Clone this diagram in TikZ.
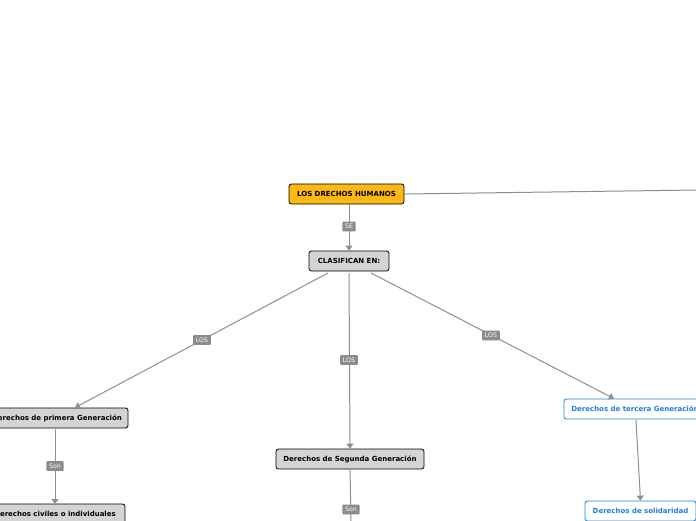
\documentclass[tikz,border=0pt]{standalone}
\usepackage{fontspec}
\setmainfont{DejaVu Sans}
\usetikzlibrary{arrows.meta}
\definecolor{orangefill}{HTML}{FDB813}
\definecolor{boxgray}{HTML}{D4D4D4}
\definecolor{linegray}{HTML}{8E8E8E}
\definecolor{labgray}{HTML}{8C8C8C}
\definecolor{blueline}{HTML}{1F7FE0}
\tikzset{
  x=1pt,y=-1pt,
  concept/.style={draw=black,line width=0.8pt,rounded corners=2.5pt,minimum height=20pt,inner xsep=6pt,font=\fontsize{7}{8}\selectfont\bfseries},
  maintopic/.style={concept,fill=orangefill},
  graytopic/.style={concept,fill=boxgray},
  bluetopic/.style={concept,draw=blueline,fill=white,text=blueline},
  linklab/.style={fill=labgray,text=white,rounded corners=1pt,inner xsep=2.8pt,inner ysep=2.6pt,font=\fontsize{6.2}{7}\selectfont},
  conn/.style={draw=linegray,line width=1pt},
  arr/.style={conn,-{Triangle[length=5pt,width=7pt]}}
}
\begin{document}
\begin{tikzpicture}
\useasboundingbox (0,0) rectangle (696,520);
\node[maintopic,minimum width=115pt] (top) at (346.5,194) {LOS DRECHOS HUMANOS};
\node[graytopic,minimum width=80pt] (clas) at (349,261) {CLASIFICAN EN:};
\node[graytopic,minimum width=142pt] (g1) at (57,418) {Derechos de primera Generación};
\node[graytopic,minimum width=140pt] (civ) at (55,514) {Derechos civiles o individuales};
\node[graytopic,minimum width=148pt] (g2) at (350,459) {Derechos de Segunda Generación};
\node[bluetopic,minimum width=142pt] (g3) at (635,409) {Derechos de tercera Generación};
\node[bluetopic,minimum width=111pt] (sol) at (640.5,511) {Derechos de solidaridad};
\coordinate (rightend) at (697,190);
\coordinate (g2down) at (351,521);
\coordinate (g1a) at (55,429);
\coordinate (g1b) at (55,504);
\coordinate (c1) at (328,273);
\coordinate (c2) at (349,273);
\coordinate (c3) at (371,273);
\coordinate (g3a) at (636,420);
\draw[conn] (top.east) -- (rightend);
\draw[arr] (top.south -| clas) -- (clas.north);
\draw[arr] (c1) -- (g1.north -| 75,0);
\draw[arr] (c2) -- (g2.north);
\draw[arr] (c3) -- (g3.north -| 614,0);
\draw[arr] (g1a) -- (g1b);
\draw[arr] (g3a) -- (sol.north);
\draw[conn] (g2.south) -- (g2down);
\node[linklab] (lse) at (349,226.5) {SE};
\node[linklab] (l1) at (202,340) {LOS};
\node[linklab] (l2) at (349,360) {LOS};
\node[linklab] (l3) at (491,335.5) {LOS};
\node[linklab] (s1) at (55,466) {Son};
\node[linklab] (s2) at (351,509.5) {Son};
\end{tikzpicture}
\end{document}
